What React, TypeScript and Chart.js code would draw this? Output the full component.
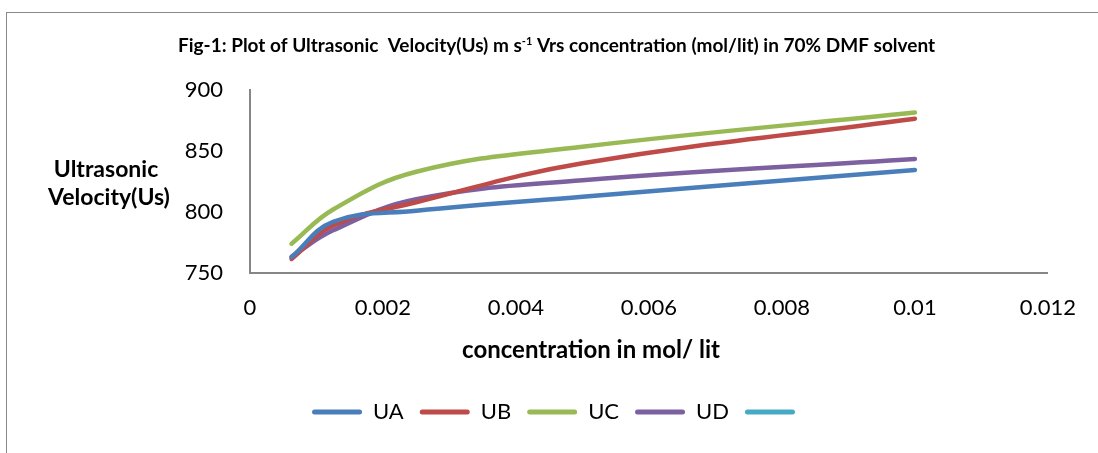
import { useEffect, useRef } from "react";
import { Chart, registerables } from "chart.js";

Chart.register(...registerables);

// ---- data ----
const concentration = [0.000625, 0.00125, 0.0025, 0.005, 0.01];
const UA = [763, 792, 801, 812.5, 834.5];
const UB = [761.5, 789, 808, 840, 876.5];
const UC = [774, 802, 833, 853.5, 881.5];
const UD = [763.5, 785, 810.5, 826, 843.5];
const UE: number[] = [];

const seriesLabels = ["UA", "UB", "UC", "UD", ""];
const seriesValues = [UA, UB, UC, UD, UE];
const seriesColors = ["#4A7EBB", "#BE4B48", "#98B954", "#7D60A0", "#46AAC5"];

const xTicks = [0, 0.002, 0.004, 0.006, 0.008, 0.01, 0.012];
const yTicks = [750, 800, 850, 900];

const titleMain = "Fig-1: Plot of Ultrasonic  Velocity(Us) m s";
const titleSup = "-1";
const titleRest = " Vrs concentration (mol/lit) in 70% DMF solvent";
const yTitleLines = ["Ultrasonic", "Velocity(Us)"];
const xTitleText = "concentration in mol/ lit";

const FONT = "Lato, 'Open Sans', 'DejaVu Sans', sans-serif";

const textPlugin = {
  id: "excelTexts",
  beforeDraw(chart: any) {
    const ctx = chart.ctx as CanvasRenderingContext2D;
    ctx.save();
    ctx.strokeStyle = "#898989";
    ctx.lineWidth = 1;
    ctx.strokeRect(6.5, 12.5, 1400, 1400);
    ctx.restore();
  },
  afterDraw(chart: any) {
    const ctx = chart.ctx as CanvasRenderingContext2D;
    ctx.save();
    ctx.fillStyle = "#000";
    ctx.textBaseline = "alphabetic";
    ctx.textAlign = "left";
    // title with superscript
    const mainFont = `bold 19px ${FONT}`;
    const supFont = `bold 11px ${FONT}`;
    ctx.font = mainFont;
    const wA = ctx.measureText(titleMain).width;
    const wB = ctx.measureText(titleRest).width;
    ctx.font = supFont;
    const wS = ctx.measureText(titleSup).width;
    const total = wA + wS + wB;
    let x = 556.5 - total / 2;
    const base = 51.5;
    ctx.font = mainFont;
    ctx.fillText(titleMain, x, base);
    x += wA;
    ctx.font = supFont;
    ctx.fillText(titleSup, x, base - 7);
    x += wS;
    ctx.font = mainFont;
    ctx.fillText(titleRest, x, base);

    // axis titles
    ctx.textAlign = "center";
    ctx.textBaseline = "middle";
    ctx.font = `bold 23px ${FONT}`;
    ctx.fillText(yTitleLines[0], 106, 170);
    ctx.fillText(yTitleLines[1], 109, 198);
    ctx.font = `bold 24px ${FONT}`;
    ctx.fillText(xTitleText, 591, 350);
    ctx.restore();
  },
};

export default function App() {
  const ref = useRef<HTMLCanvasElement | null>(null);

  useEffect(() => {
    if (!ref.current) return;
    const chart = new Chart(ref.current, {
      type: "line",
      data: {
        datasets: seriesValues.map((vals, i) => ({
          label: seriesLabels[i],
          data: vals.map((v, j) => ({ x: concentration[j], y: v })),
          borderColor: seriesColors[i],
          backgroundColor: seriesColors[i],
          borderWidth: 4.5,
          pointRadius: 0,
          tension: 0.4,
          borderCapStyle: "round" as const,
          fill: false,
        })),
      },
      options: {
        responsive: false,
        animation: false,
        devicePixelRatio: 1,
        layout: { padding: { left: 69, right: 49, top: 90, bottom: 20 } },
        plugins: {
          title: { display: false },
          tooltip: { enabled: false },
          legend: {
            display: true,
            position: "bottom",
            labels: {
              boxWidth: 50,
              boxHeight: 5,
              padding: 16,
              color: "#000",
              font: { family: FONT, size: 22 },
              generateLabels: (c: any) =>
                c.data.datasets.map((d: any, i: number) => ({
                  text: d.label,
                  fillStyle: d.borderColor,
                  strokeStyle: d.borderColor,
                  lineWidth: 0,
                  borderRadius: 2.5,
                  datasetIndex: i,
                  hidden: false,
                  fontColor: "#000",
                })),
            },
          },
        },
        scales: {
          x: {
            type: "linear",
            min: 0,
            max: 0.012,
            afterBuildTicks: (s: any) => {
              s.ticks = xTicks.map((v) => ({ value: v }));
            },
            afterFit: (s: any) => {
              const lh = s.chart.legend ? s.chart.legend.height : 48;
              s.height = 453 - 273 - 20 - lh;
            },
            grid: { display: false, drawTicks: false },
            border: { display: true, color: "#868686", width: 2 },
            ticks: {
              padding: 22,
              color: "#000",
              font: { family: FONT, size: 22 },
              maxRotation: 0,
              autoSkip: false,
              callback: (v: any) => String(v),
            },
          },
          y: {
            type: "linear",
            min: 750,
            max: 900,
            afterBuildTicks: (s: any) => {
              s.ticks = yTicks.map((v) => ({ value: v }));
            },
            afterFit: (s: any) => {
              s.width = 250 - 69;
            },
            grid: { display: false, drawTicks: false },
            border: { display: true, color: "#868686", width: 2 },
            ticks: {
              padding: 27,
              color: "#000",
              font: { family: FONT, size: 22 },
              callback: (v: any) => String(v),
            },
          },
        },
      },
      plugins: [textPlugin],
    });
    return () => chart.destroy();
  }, []);

  return (
    <div style={{ position: "absolute", left: 0, top: 0, width: 1098, height: 453 }}>
      <canvas ref={ref} width={1098} height={453} style={{ display: "block" }} />
    </div>
  );
}
